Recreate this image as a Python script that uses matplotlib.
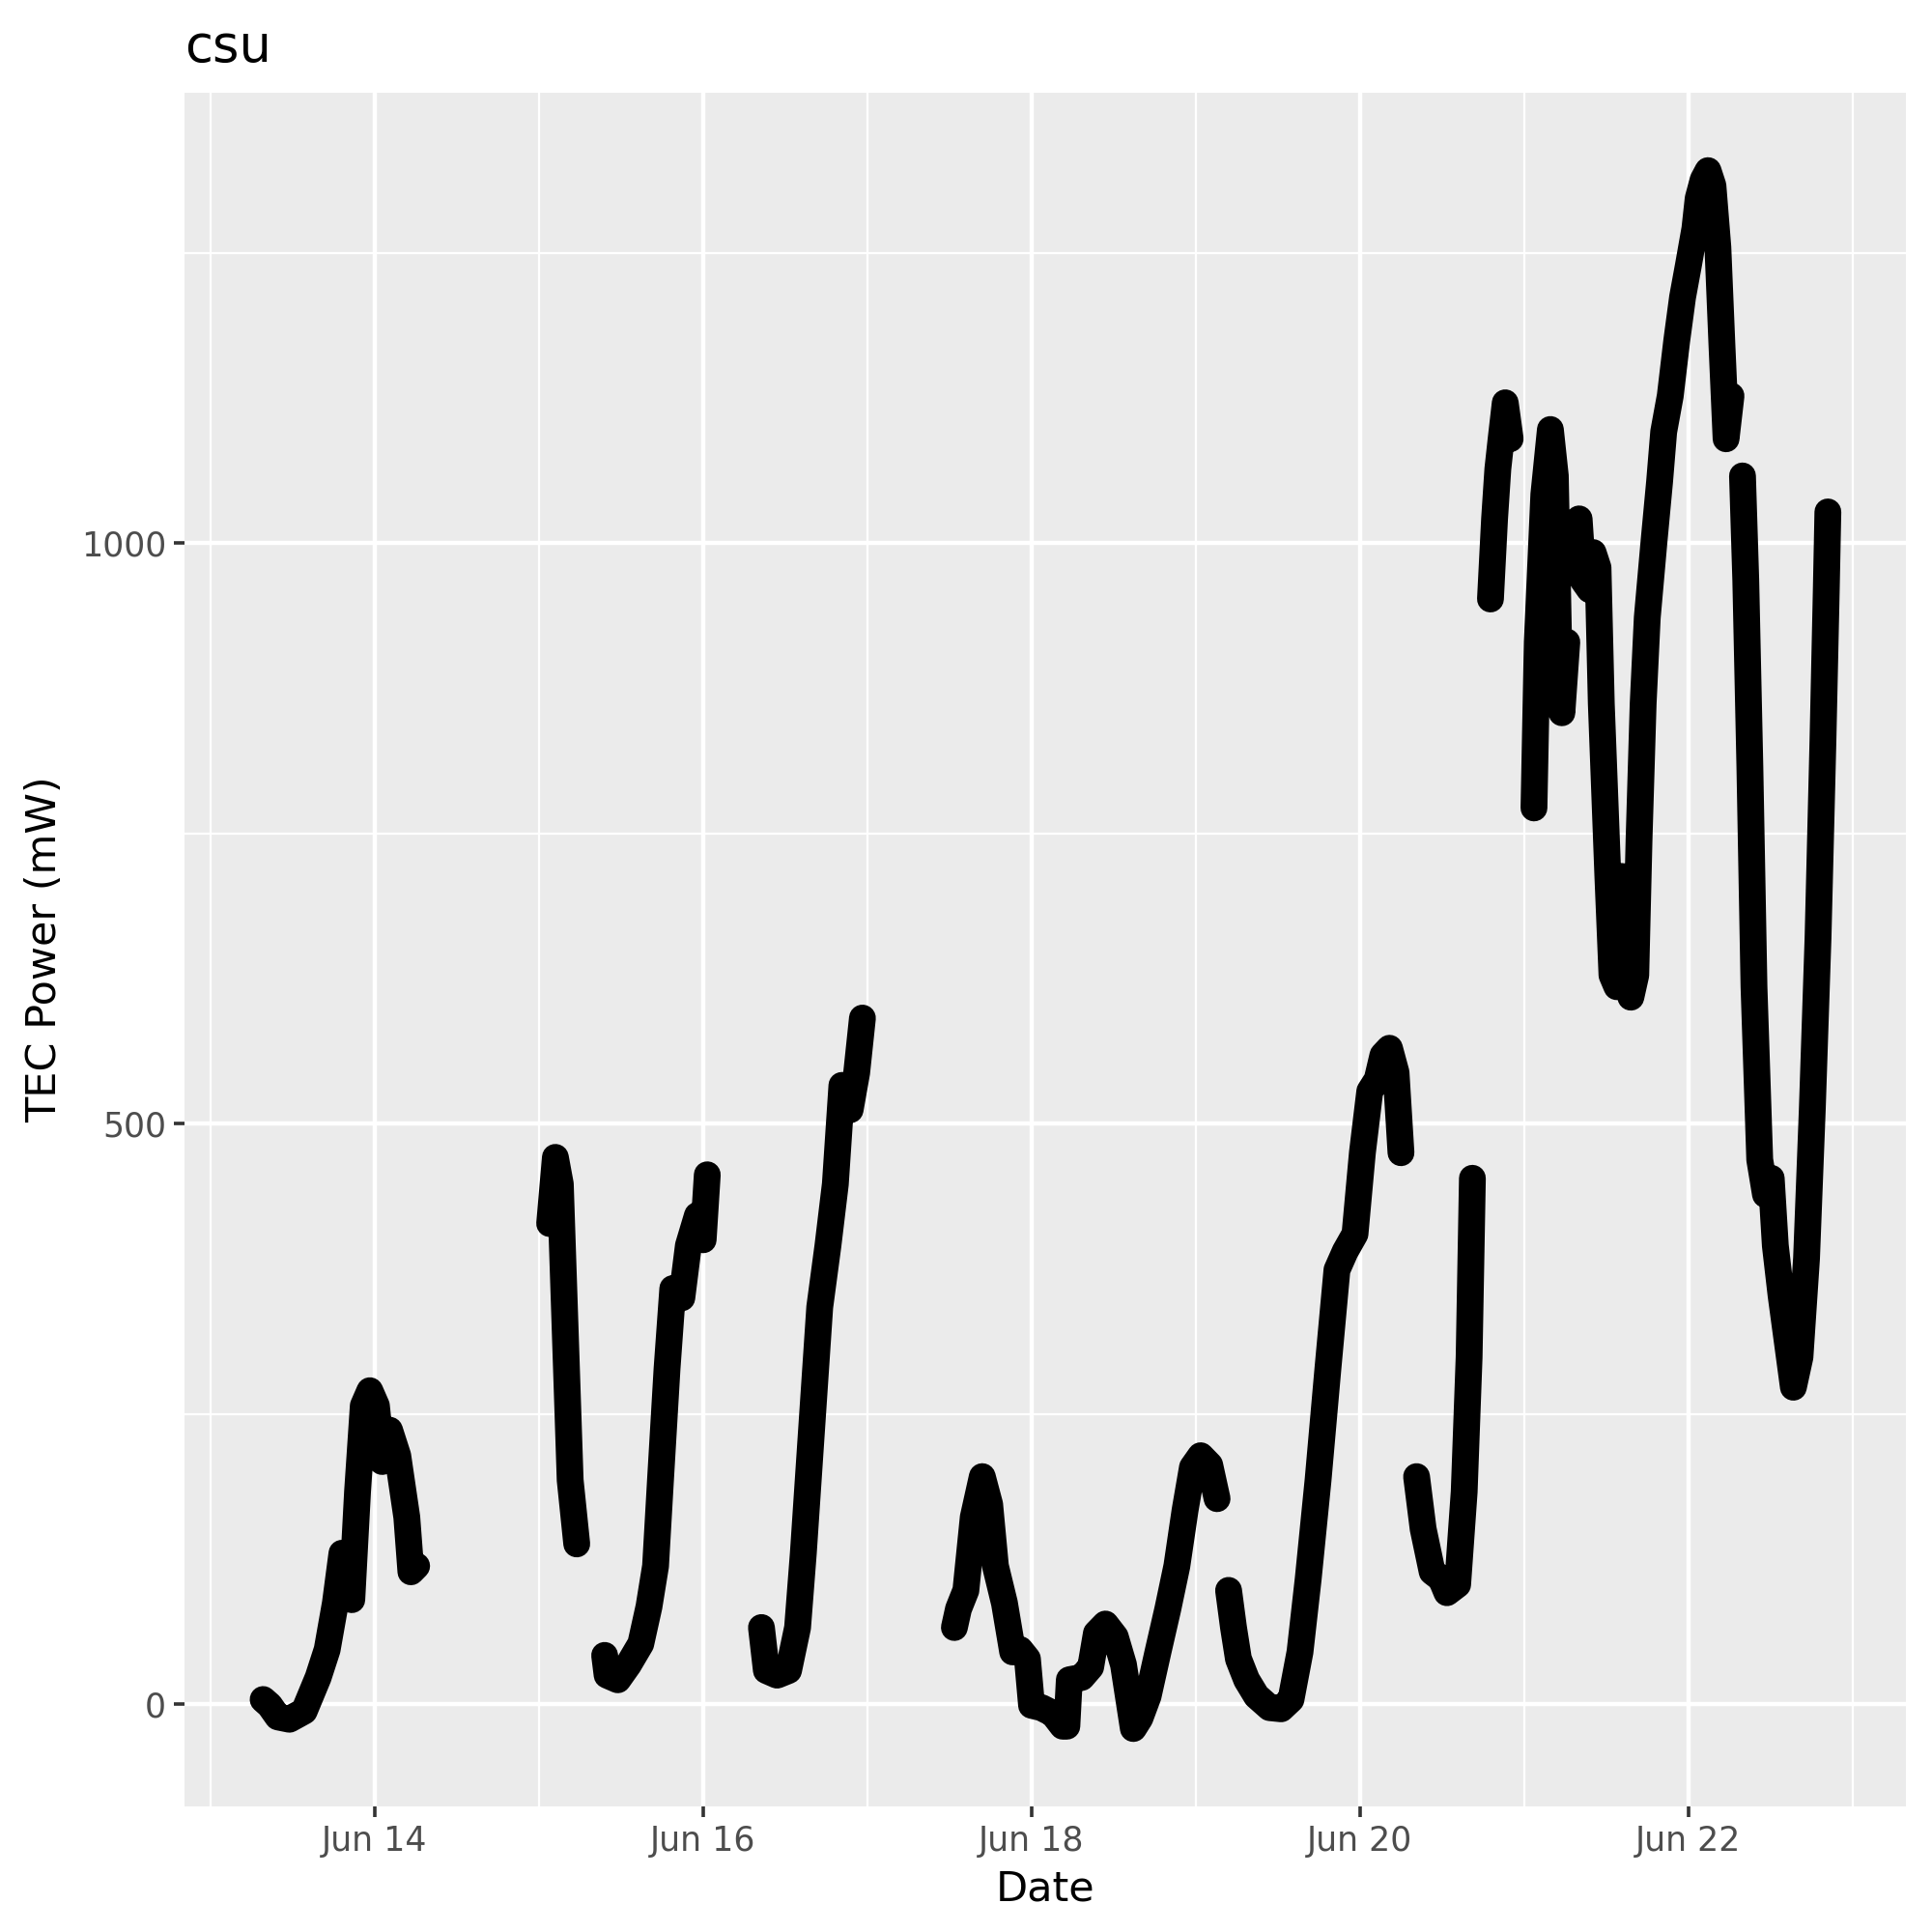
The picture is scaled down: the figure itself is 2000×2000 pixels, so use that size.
import numpy as np
import pandas as pd
import matplotlib
matplotlib.use("Agg")
import matplotlib.pyplot as plt
import matplotlib.dates as mdates

# days since Jun 14 00:00, NaN marks a gap in the record
days = [
    -0.68, -0.64, -0.59, -0.52, -0.43, -0.345, -0.29, -0.24, -0.20, -0.14, -0.105, -0.07, -0.03, 0.01, 0.045, 0.09, 0.14, 0.195, 0.22, 0.255, np.nan,
    1.065, 1.10, 1.13, 1.17, 1.19, 1.23, np.nan,
    1.40, 1.415, 1.48, 1.545, 1.62, 1.67, 1.71, 1.74, 1.78, 1.815, 1.87, 1.91, 1.965, 2.00, 2.025, np.nan,
    2.355, 2.385, 2.45, 2.52, 2.575, 2.61, 2.655, 2.71, 2.76, 2.805, 2.845, 2.895, 2.935, 2.97, np.nan,
    3.53, 3.555, 3.60, 3.645, 3.70, 3.745, 3.78, 3.835, 3.885, 3.93, 3.975, 4.0, 4.06, 4.13, 4.19, 4.215, 4.23, 4.305, 4.36, 4.395,
    4.45, 4.51, 4.56, 4.60, 4.62, 4.66, 4.71, 4.77, 4.83, 4.885, 4.935, 4.98, 5.03, 5.085, 5.13, np.nan,
    5.20, 5.23, 5.26, 5.31, 5.37, 5.45, 5.52, 5.58, 5.635, 5.685, 5.745, 5.805, 5.86, 5.91, 5.97, 6.015, 6.06, 6.105, 6.14, 6.18, 6.22, 6.25, np.nan,
    6.345, 6.385, 6.44, 6.495, 6.53, 6.595, 6.635, 6.665, 6.685, np.nan,
    6.795, 6.82, 6.84, 6.86, 6.885, 6.915, np.nan,
    7.06, 7.08, 7.12, 7.16, 7.19, 7.21, 7.23, 7.26, np.nan,
    7.335, 7.36, 7.40, 7.42, 7.45, 7.47, 7.49, 7.51, 7.535, 7.565, 7.595, 7.625, 7.65, 7.68, 7.70, 7.725, 7.75, 7.79, 7.825, 7.85,
    7.89, 7.93, 7.965, 8.0, 8.04, 8.06, 8.09, 8.12, 8.15, 8.18, 8.205, 8.23, 8.26, np.nan,
    8.33, 8.35, 8.375, 8.40, 8.435, 8.47, 8.505, 8.53, 8.565, 8.605, 8.64, 8.68, 8.72, 8.755, 8.79, 8.82, 8.84, 8.85,
]
power = [
    4, -1, -11, -13, -6, 23, 47, 87, 130, 90, 183, 257, 270, 257, 209, 236, 214, 161, 114, 119, np.nan,
    414, 471, 448, 278, 193, 138, np.nan,
    42, 25, 21, 34, 52, 84, 119, 193, 289, 358, 350, 395, 421, 400, 456, np.nan,
    66, 29, 25, 29, 66, 130, 225, 342, 395, 448, 533, 512, 544, 591, np.nan,
    66, 82, 98, 161, 196, 172, 119, 87, 45, 47, 39, -1, -3, -8, -19, -19, 21, 23, 32, 61,
    69, 58, 34, -3, -21, -12, 7, 45, 82, 119, 167, 204, 214, 206, 177, np.nan,
    98, 66, 39, 21, 7, -3, -4, 4, 45, 108, 193, 289, 374, 390, 405, 475, 528, 538, 559, 565, 544, 475, np.nan,
    196, 151, 114, 108, 96, 103, 183, 299, 453, np.nan,
    952, 1021, 1064, 1090, 1121, 1090, np.nan,
    772, 915, 1042, 1098, 1058, 915, 854, 915, np.nan,
    1021, 968, 960, 992, 979, 862, 788, 713, 628, 618, 713, 639, 609, 628, 745, 862, 936, 1000, 1053, 1096,
    1127, 1175, 1212, 1239, 1271, 1297, 1313, 1321, 1308, 1255, 1170, 1090, 1127, np.nan,
    1058, 968, 807, 618, 469, 439, 453, 395, 352, 310, 273, 299, 384, 512, 660, 830, 958, 1027,
]

base = pd.Timestamp("2021-06-14")
base_num = mdates.date2num(base.to_pydatetime())
dnum = base_num + np.array(days, dtype=float)

fig = plt.figure(figsize=(10, 10), dpi=200)
ax = fig.add_axes([0.0957, 0.065, 0.8909, 0.887])
ax.set_facecolor("#EBEBEB")
for s in ax.spines.values():
    s.set_visible(False)

# ggplot-like 5% expansion
xmin, xmax = np.nanmin(dnum), np.nanmax(dnum)
ymin, ymax = np.nanmin(power), np.nanmax(power)
ax.set_xlim(xmin - 0.05 * (xmax - xmin), xmax + 0.05 * (xmax - xmin))
ax.set_ylim(ymin - 0.05 * (ymax - ymin), ymax + 0.05 * (ymax - ymin))

ax.set_xticks(base_num + np.arange(0, 9, 2))
ax.set_xticks(base_num + np.arange(-1, 10, 2), minor=True)
ax.xaxis.set_major_formatter(mdates.DateFormatter("%b %d"))
ax.set_yticks([0, 500, 1000])
ax.set_yticks([250, 750, 1250], minor=True)

ax.grid(which="major", color="white", linewidth=1.6)
ax.grid(which="minor", color="white", linewidth=0.8)
ax.set_axisbelow(True)
ax.tick_params(which="major", length=4, width=1.3, color="#333333", labelcolor="#4D4D4D", labelsize=12.5, pad=3)
ax.tick_params(which="minor", length=0)

ax.plot(dnum, power, color="black", linewidth=10, solid_capstyle="round", solid_joinstyle="round")

ax.set_xlabel("Date", fontsize=15.5, labelpad=4)
ax.set_ylabel("TEC Power (mW)", fontsize=15.5, labelpad=6)
fig.text(0.0957, 0.968, "csu", fontsize=19, ha="left", va="baseline")

fig.savefig("out.png", dpi=200)
